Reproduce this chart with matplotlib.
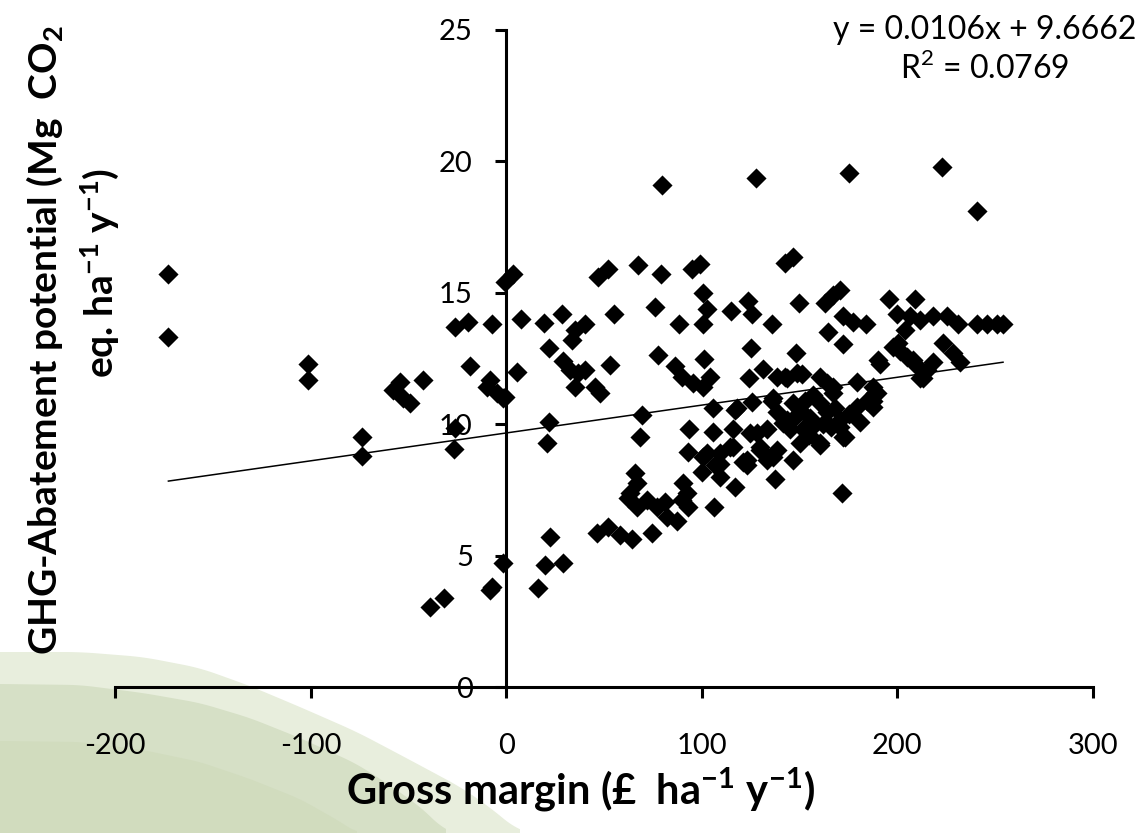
import numpy as np
import matplotlib
matplotlib.use("Agg")
from matplotlib import pyplot as plt
from matplotlib.patches import Polygon

plt.rcParams['font.family'] = ['Lato', 'DejaVu Sans']
plt.rcParams['axes.unicode_minus'] = False
plt.rcParams['mathtext.fontset'] = 'custom'
plt.rcParams['mathtext.rm'] = 'Lato'
plt.rcParams['mathtext.bf'] = 'Lato:bold'

# Gross margin (GBP/ha/y) and GHG abatement potential (Mg CO2 eq./ha/y)
gross_margin = [
    -172.7, -172.7, -101.2, -101.2, -54.2, -57.7, -49.0, -52.6, -42.4, -73.6,
    -73.6, -26.0, -26.6, -26.0, -19.4, -7.2, -18.4, -8.2, -9.7, -1.5,
    -4.6, -0.5, 3.6, -1.5, -7.2, -8.5, -32.0, -39.0,
    79.7, 127.7, 175.3, 222.8, 240.7,
    47.0, 52.1, 67.4, 79.2, 95.0, 99.1, 142.6, 146.7,
    7.7, 19.4, 28.6, 40.4, 35.3, 33.7, 55.2, 76.1, 88.4, 100.7,
    102.7, 100.7, 115.0, 123.7, 125.7, 135.9, 149.7, 163.0, 167.1, 170.7,
    164.5, 172.2, 172.2, 177.3, 184.0, 195.7, 209.0, 199.8, 206.4, 211.5,
    218.2, 225.3, 231.0, 240.7, 245.8, 250.9, 254.0, 203.9, 200.3,
    22.0, 29.1, 32.7, 36.8, 40.4, 35.3, 45.5, 48.0, 53.1, 5.6,
    -0.5, 77.7, 86.4, 89.9, 95.6, 100.7, 104.2, 101.2, 125.2, 124.2,
    131.3, 138.5, 143.6, 148.7, 148.2, 160.4, 167.1, 179.4, 187.5, 190.0,
    197.8, 204.9, 210.0, 213.0, 218.2, 223.3, 228.4, 232.0,
    142.6, 151.3, 164.0, 167.0, 188.6, 191.0, 201.3, 208.0, 215.0, 211.5,
    22.0, 21.0, 69.5, 68.5, 105.8, 118.0, 125.7, 136.4, 146.7, 187.5,
    189.6, 170.7, 172.2, 160.4, 146.7, 137.5, 171.7, 93.5, 105.8, 116.0,
    128.3, 93.0, 100.7, 109.4, 116.0, 123.1, 129.8, 136.4, 100.2, 109.4,
    106.8, 117.0, 123.1,
    117.0, 136.0, 138.5, 143.6, 150.2, 155.3, 160.4, 164.0, 170.7, 173.2,
    179.4, 184.5, 187.5, 145.0, 151.8, 150.2, 160.4, 124.7, 133.4, 129.8,
    138.5, 114.5, 109.4, 121.1, 133.4, 102.7, 141.5,
    155.0, 158.0, 162.0, 166.0, 153.0, 157.0, 148.0, 175.0, 181.0, 168.0,
    65.9, 66.9, 63.4, 62.3, 66.9, 72.0, 77.2, 81.2, 82.3, 87.4,
    90.4, 92.5, 89.9, 93.0, 106.3, 74.6, 46.5, 52.1, 58.3, 64.4,
    22.5, 19.9, 29.1, 16.4,
]
abatement = [
    15.7, 13.3, 12.3, 11.7, 11.6, 11.3, 10.8, 11.0, 11.7, 9.5,
    8.8, 9.85, 9.05, 13.7, 13.9, 13.8, 12.2, 11.7, 11.4, 11.0,
    11.2, 15.4, 15.7, 4.7, 3.8, 3.7, 3.4, 3.05,
    19.1, 19.35, 19.55, 19.8, 18.1,
    15.6, 15.9, 16.05, 15.7, 15.9, 16.1, 16.15, 16.35,
    14.0, 13.85, 14.2, 13.8, 13.6, 13.2, 14.2, 14.45, 13.8, 15.0,
    14.4, 13.8, 14.3, 14.7, 14.2, 13.8, 14.6, 14.6, 14.9, 15.1,
    13.5, 13.05, 14.1, 13.9, 13.8, 14.75, 14.75, 14.2, 14.1, 13.95,
    14.1, 14.1, 13.8, 13.8, 13.8, 13.8, 13.8, 13.6, 13.1,
    12.9, 12.4, 12.05, 11.95, 12.05, 11.4, 11.4, 11.2, 12.25, 12.0,
    11.05, 12.65, 12.2, 11.8, 11.55, 11.4, 11.8, 12.5, 12.9, 11.75,
    12.1, 11.8, 11.75, 11.95, 12.7, 11.8, 11.4, 11.6, 11.4, 12.45,
    12.95, 12.55, 12.2, 11.75, 12.35, 13.1, 12.7, 12.35,
    11.8, 11.9, 11.55, 11.2, 11.2, 12.3, 12.8, 12.45, 12.05, 11.75,
    10.1, 9.3, 10.35, 9.5, 10.6, 10.6, 10.85, 11.0, 10.8, 10.9,
    11.2, 9.9, 9.5, 9.2, 8.65, 7.9, 7.4, 9.8, 9.7, 9.8,
    9.65, 8.95, 8.75, 8.9, 9.15, 8.65, 9.0, 8.75, 8.2, 8.0,
    8.45, 7.6, 8.45,
    10.55, 10.9, 10.45, 10.15, 10.55, 10.25, 10.8, 10.45, 10.15, 9.5,
    10.65, 10.9, 10.65, 9.8, 9.8, 9.3, 9.3, 9.65, 9.8, 9.15,
    9.0, 9.15, 8.5, 8.55, 8.65, 8.9, 10.05,
    9.6, 10.0, 10.0, 9.9, 10.9, 11.1, 10.3, 10.4, 10.1, 10.6,
    8.15, 7.75, 7.4, 7.2, 6.85, 7.1, 6.85, 7.05, 6.45, 6.3,
    7.75, 7.4, 7.1, 6.85, 6.85, 5.85, 5.85, 6.1, 5.8, 5.65,
    5.7, 4.65, 4.7, 3.75,
]

# linear trendline as reported on the chart
slope = 0.0106
intercept = 9.6662
r_squared = 0.0769

W, H = 1145, 833
fig = plt.figure(figsize=(W / 100, H / 100), dpi=100)

# decorative green bands in the lower-left corner (figure pixels)
bands = [
    ('#e8eedd', [(0, 652), (80, 652), (143, 657), (200, 668), (250, 686),
                 (300, 707), (357, 732), (410, 760), (464, 789), (500, 815),
                 (520, 833)]),
    ('#d6e0c6', [(0, 684), (80, 685), (143, 693), (200, 703), (250, 718),
                 (300, 738), (357, 764), (400, 792), (429, 814), (446, 833)]),
    ('#d1dcbe', [(0, 741), (80, 742), (143, 750), (200, 762), (250, 779),
                 (300, 799), (339, 821), (357, 833)]),
]
for colour, edge in bands:
    ex = np.array([p[0] for p in edge], dtype=float)
    ey = np.array([p[1] for p in edge], dtype=float)
    xs = np.linspace(ex[0], ex[-1], 200)
    ys = np.interp(xs, ex, ey)
    ys = np.convolve(np.pad(ys, 6, mode='edge'), np.ones(13) / 13, mode='valid')
    pts = [(x / W, 1 - y / H) for x, y in zip(xs, ys)]
    pts += [(ex[-1] / W, 0), (0, 0)]
    fig.patches.append(Polygon(pts, closed=True, transform=fig.transFigure,
                               facecolor=colour, edgecolor='none', zorder=-5))

ax = fig.add_axes([115 / W, 1 - 687 / H, (1093 - 115) / W, (687 - 30) / H])
ax.patch.set_alpha(0)

ax.scatter(gross_margin, abatement, marker='D', s=105, color='black',
           linewidths=0, zorder=3)

xl = np.array([min(gross_margin), max(gross_margin)])
ax.plot(xl, slope * xl + intercept, color='black', lw=1.1, zorder=2)

ax.set_xlim(-200, 300)
ax.set_ylim(0, 25)
ax.set_xticks(np.arange(-200, 301, 100))
ax.set_yticks(np.arange(0, 26, 5))

ax.spines['left'].set_position(('data', 0))
ax.spines['bottom'].set_position(('data', 0))
ax.spines['right'].set_visible(False)
ax.spines['top'].set_visible(False)
for s in ('left', 'bottom'):
    ax.spines[s].set_linewidth(2.2)
ax.tick_params(axis='both', direction='out', length=8, width=2.2,
               labelsize=21, colors='black')
ax.tick_params(axis='x', pad=25)
ax.tick_params(axis='y', pad=16)

fig.text(985 / W, 1 - 30 / H, 'y = 0.0106x + 9.6662', ha='center', va='center',
         fontsize=23)
fig.text(985 / W, 1 - 68 / H, 'R$^2$ = 0.0769', ha='center', va='center',
         fontsize=23)

fig.text(580 / W, 1 - 790 / H,
         r'Gross margin (£  ha$\mathbf{^{-1}}$ y$\mathbf{^{-1}}$)',
         ha='center', va='center', fontsize=30, fontweight='bold')
fig.text(45 / W, 1 - 340 / H,
         r'GHG-Abatement potential (Mg  CO$\mathbf{_2}$',
         ha='center', va='center', rotation=90, fontsize=28, fontweight='bold')
fig.text(100 / W, 1 - 273 / H,
         r'eq. ha$\mathbf{^{-1}}$ y$\mathbf{^{-1}}$)',
         ha='center', va='center', rotation=90, fontsize=28, fontweight='bold')

fig.savefig('out.png', dpi=100)
